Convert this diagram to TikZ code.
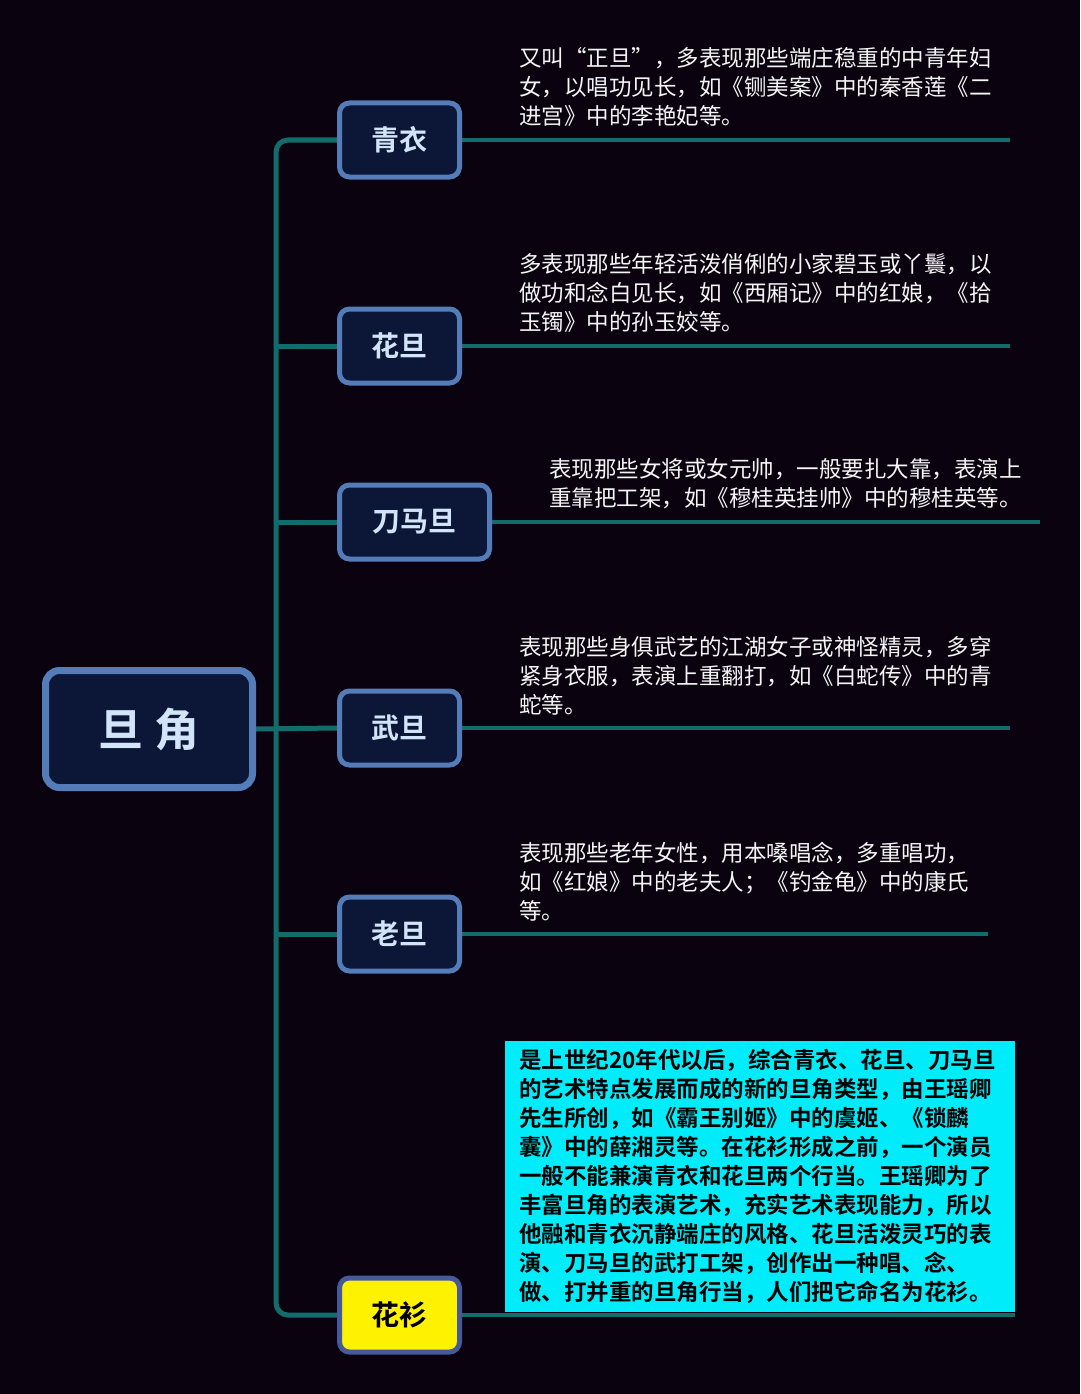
\documentclass[tikz,border=0pt]{standalone}
\usepackage{fontspec}
\setmainfont{Noto Sans CJK SC}[BoldFont={Noto Sans CJK SC Bold}]
\usepackage{tikz}
\usetikzlibrary{positioning}
\definecolor{bgdark}{RGB}{10,3,15}
\definecolor{trunkteal}{RGB}{18,108,108}
\definecolor{boxedge}{RGB}{84,124,184}
\definecolor{boxfill}{RGB}{12,22,54}
\definecolor{boxtext}{RGB}{210,228,248}
\definecolor{notecyan}{RGB}{0,236,250}
\definecolor{hsedge}{RGB}{70,90,155}
\pgfdeclarelayer{bg}
\pgfdeclarelayer{edges}
\pgfsetlayers{bg,edges,main}

\begin{document}
\begin{tikzpicture}[
    x=1pt, y=-1pt,
    root/.style={rectangle, rounded corners=14pt, draw=boxedge, line width=7pt, fill=boxfill, text=boxtext, minimum width=207pt, minimum height=117pt, font=\fontsize{45}{50}\selectfont\bfseries},
    role/.style={rectangle, rounded corners=10pt, draw=boxedge, line width=5pt, fill=boxfill, text=boxtext, minimum width=120pt, minimum height=74pt, anchor=west, font=\fontsize{28}{32}\selectfont\bfseries},
    desc/.style={align=left, inner sep=0pt, text=white!92!gray, font=\fontsize{22.5}{29}\selectfont},
    note/.style={rectangle, fill=notecyan, text=black, align=left, text width=482pt, inner xsep=14pt, inner ysep=8pt, font=\fontsize{22.5}{29}\selectfont\bfseries},
    link/.style={trunkteal, line width=5pt}
]
% background
\begin{pgfonlayer}{bg}
\fill[bgdark] (0,0) rectangle (1080,1394);
\end{pgfonlayer}
\useasboundingbox (0,0) rectangle (1080,1394);

% root
\node[root] (dj) at (149,729) {旦 角};

% roles
\node[role] (qy) at (337,140) {青衣};
\node[role] (hd) at (337,346) {花旦};
\node[role, minimum width=150pt] (dmd) at (337,522) {刀马旦};
\node[role] (wd) at (337,728) {武旦};
\node[role] (ld) at (337,934) {老旦};
\node[role, fill=yellow, draw=hsedge, text=black] (hs) at (337,1315) {花衫};

% free ends
\coordinate (trunk) at (276,729);
\coordinate (qyend) at (1010,140);
\coordinate (hdend) at (1010,346);
\coordinate (dmdend) at (1040,522);
\coordinate (wdend) at (1010,728);
\coordinate (ldend) at (988,934);
\coordinate (hsend) at (1015,1315);

% connectors
\begin{pgfonlayer}{edges}
\draw[link, rounded corners=12pt] (qy.west) -| (trunk) |- (hs.west);
\draw[link] (hd.west) -- (hd.west -| trunk);
\draw[link] (dmd.west) -- (dmd.west -| trunk);
\draw[link] (ld.west) -- (ld.west -| trunk);
\draw[link] (dj.east) -- (wd.west);
\draw[link, line width=4pt] (qy.east) -- (qyend);
\draw[link, line width=4pt] (hd.east) -- (hdend);
\draw[link, line width=4pt] (dmd.east) -- (dmdend);
\draw[link, line width=4pt] (wd.east) -- (wdend);
\draw[link, line width=4pt] (ld.east) -- (ldend);
\draw[link, line width=4pt] (hs.east) -- (hsend);
\end{pgfonlayer}

% descriptions
\node[desc, above right=13pt and 57pt of qy.east] (qytext) {又叫“正旦”，多表现那些端庄稳重的中青年妇\\女，以唱功见长，如《铡美案》中的秦香莲《二\\进宫》中的李艳妃等。};
\node[desc, above right=13pt and 57pt of hd.east] (hdtext) {多表现那些年轻活泼俏俐的小家碧玉或丫鬟，以\\做功和念白见长，如《西厢记》中的红娘，《拾\\玉镯》中的孙玉姣等。};
\node[desc, above right=13pt and 57pt of dmd.east] (dmdtext) {表现那些女将或女元帅，一般要扎大靠，表演上\\重靠把工架，如《穆桂英挂帅》中的穆桂英等。};
\node[desc, above right=13pt and 57pt of wd.east] (wdtext) {表现那些身俱武艺的江湖女子或神怪精灵，多穿\\紧身衣服，表演上重翻打，如《白蛇传》中的青\\蛇等。};
\node[desc, above right=13pt and 57pt of ld.east] (ldtext) {表现那些老年女性，用本嗓唱念，多重唱功，\\如《红娘》中的老夫人；《钓金龟》中的康氏\\等。};
\node[note, above right=3pt and 43pt of hs.east] (hstext) {是上世纪20年代以后，综合青衣、花旦、刀马旦\\的艺术特点发展而成的新的旦角类型，由王瑶卿\\先生所创，如《霸王别姬》中的虞姬、《锁麟\\囊》中的薛湘灵等。在花衫形成之前，一个演员\\一般不能兼演青衣和花旦两个行当。王瑶卿为了\\丰富旦角的表演艺术，充实艺术表现能力，所以\\他融和青衣沉静端庄的风格、花旦活泼灵巧的表\\演、刀马旦的武打工架，创作出一种唱、念、\\做、打并重的旦角行当，人们把它命名为花衫。};

\end{tikzpicture}
\end{document}
